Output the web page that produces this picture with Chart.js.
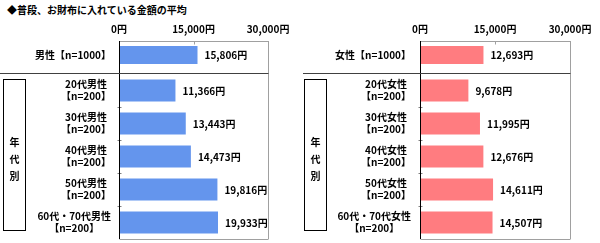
<!DOCTYPE html>
<html><head><meta charset="utf-8">
<script src="https://cdn.jsdelivr.net/npm/chart.js@4/dist/chart.umd.min.js"></script>
<style>
body{margin:0;width:600px;height:243px;background:#fff;overflow:hidden;font-family:"Noto Sans CJK JP",sans-serif;}
.panel{position:absolute;top:0;width:300px;height:243px;}
.panel canvas{position:absolute;left:0;}
.title{position:absolute;left:7px;top:2px;font-size:10px;font-weight:bold;color:#000;white-space:nowrap;line-height:16px;}
.box{position:absolute;top:79px;width:23px;height:152px;border:1px solid #000;box-sizing:border-box;display:flex;flex-direction:column;justify-content:center;align-items:center;font-size:10px;font-weight:bold;padding-top:6px;}
.box span{display:block;line-height:17px;}
</style>
</head><body>
<div class="title">◆普段、お財布に入れている金額の平均</div>
<div class="panel" style="left:0">
  <canvas id="mTop" width="300" height="74" style="top:0"></canvas>
  <canvas id="mAge" width="300" height="169" style="top:74px"></canvas>
  <div class="box" style="left:3px"><span>年</span><span>代</span><span>別</span></div>
</div>
<div class="panel" style="left:300px">
  <canvas id="fTop" width="300" height="74" style="top:0"></canvas>
  <canvas id="fAge" width="300" height="169" style="top:74px"></canvas>
  <div class="box" style="left:4px"><span>年</span><span>代</span><span>別</span></div>
</div>
<script>
// ---- data ----
const maleTopLabels = ['男性【n=1000】'];
const maleTopValues = [15806];
const maleAgeLabels = [['20代男性','【n=200】'],['30代男性','【n=200】'],['40代男性','【n=200】'],['50代男性','【n=200】'],['60代・70代男性','【n=200】']];
const maleAgeValues = [11366, 13443, 14473, 19816, 19933];
const femaleTopLabels = ['女性【n=1000】'];
const femaleTopValues = [12693];
const femaleAgeLabels = [['20代女性','【n=200】'],['30代女性','【n=200】'],['40代女性','【n=200】'],['50代女性','【n=200】'],['60代・70代女性','【n=200】']];
const femaleAgeValues = [9678, 11995, 12676, 14611, 14507];
const axisMax = 30000;
const axisStep = 15000;
const unit = '円';

const FONT = '"Noto Sans CJK JP", sans-serif';
const fmt = v => v.toLocaleString('en-US') + unit;

const framePlugin = {
  id: 'frame',
  afterDraw(chart, args, o) {
    const ctx = chart.ctx, a = chart.chartArea, xs = chart.scales.x, ys = chart.scales.y;
    const top = o.isTop ? a.top : 0;
    const bottom = o.isTop ? chart.height : a.bottom;
    const L = Math.round(a.left) + 0.5, R = Math.round(a.right) + 0.5;
    ctx.save();
    ctx.lineWidth = 1;
    // gray frame
    ctx.strokeStyle = '#a0a0a0';
    ctx.beginPath();
    ctx.moveTo(R, top); ctx.lineTo(R, bottom);
    if (o.isTop) {
      const t = Math.round(a.top) + 0.5;
      ctx.moveTo(L, t); ctx.lineTo(R, t);
      xs.ticks.forEach(tk => {
        const px = Math.round(xs.getPixelForValue(tk.value)) + 0.5;
        ctx.moveTo(px, t); ctx.lineTo(px, t + 3);
      });
    } else {
      const b = Math.round(a.bottom) + 0.5;
      ctx.moveTo(L, b); ctx.lineTo(R, b);
    }
    ctx.stroke();
    // category boundary ticks
    if (!o.isTop) {
      ctx.strokeStyle = '#808080';
      ctx.beginPath();
      for (let i = 0; i < ys.ticks.length - 1; i++) {
        const yy = Math.round((ys.getPixelForTick(i) + ys.getPixelForTick(i + 1)) / 2) + 0.5;
        ctx.moveTo(L - 2, yy); ctx.lineTo(L + 2, yy);
      }
      ctx.stroke();
    }
    // left axis
    ctx.strokeStyle = '#000';
    ctx.beginPath();
    ctx.moveTo(L, top); ctx.lineTo(L, bottom);
    ctx.stroke();
    // separator
    if (o.isTop) {
      ctx.strokeStyle = '#404040';
      ctx.beginPath();
      ctx.moveTo(o.sepLeft, chart.height - 0.5); ctx.lineTo(R, chart.height - 0.5);
      ctx.stroke();
      // x tick labels
      ctx.fillStyle = '#000';
      ctx.font = 'bold 10px ' + FONT;
      ctx.textAlign = 'center'; ctx.textBaseline = 'middle';
      xs.ticks.forEach(tk => {
        ctx.fillText(fmt(tk.value), xs.getPixelForValue(tk.value), 29);
      });
    }
    // category labels
    ctx.fillStyle = '#000';
    ctx.font = 'bold 10px ' + FONT;
    ctx.textBaseline = 'middle';
    chart.data.labels.forEach((lab, i) => {
      const lines = Array.isArray(lab) ? lab : [lab];
      const yc = ys.getPixelForTick(i);
      const w = Math.max(...lines.map(s => ctx.measureText(s).width));
      const cx = o.labelRight - w / 2;
      ctx.textAlign = 'center';
      lines.forEach((s, j) => {
        ctx.fillText(s, cx, yc + (j - (lines.length - 1) / 2) * 12);
      });
    });
    // value labels
    ctx.font = 'bold 10px ' + FONT;
    ctx.textAlign = 'left';
    const meta = chart.getDatasetMeta(0);
    meta.data.forEach((el, i) => {
      ctx.fillText(fmt(chart.data.datasets[0].data[i]), el.x + 7, el.y + 0.5);
    });
    ctx.restore();
  }
};

function makeChart(id, labels, values, color, isTop, padL, padR, labelRight, sepLeft) {
  new Chart(document.getElementById(id), {
    type: 'bar',
    data: { labels: labels, datasets: [{ data: values, backgroundColor: color, borderWidth: 0,
      barPercentage: isTop ? 18 / 28 : 22 / 33, categoryPercentage: 1 }] },
    options: {
      indexAxis: 'y', responsive: false, animation: false, devicePixelRatio: 1,
      layout: { padding: isTop ? { left: padL, right: padR, top: 41, bottom: 5 } : { left: padL, right: padR, top: 0, bottom: 4 } },
      scales: {
        x: { display: false, min: 0, max: axisMax, ticks: { stepSize: axisStep } },
        y: { display: false }
      },
      plugins: { legend: { display: false }, tooltip: { enabled: false },
        frame: { isTop: isTop, labelRight: labelRight, sepLeft: sepLeft } }
    },
    plugins: [framePlugin]
  });
}
const blue = '#6495ED', pink = '#FF7C80';
makeChart('mTop', maleTopLabels, maleTopValues, blue, true, 119, 32, 111, 0);
makeChart('mAge', maleAgeLabels, maleAgeValues, blue, false, 119, 32, 111, 0);
makeChart('fTop', femaleTopLabels, femaleTopValues, pink, true, 120, 30, 111, 3);
makeChart('fAge', femaleAgeLabels, femaleAgeValues, pink, false, 120, 30, 111, 3);
</script>
</body></html>
